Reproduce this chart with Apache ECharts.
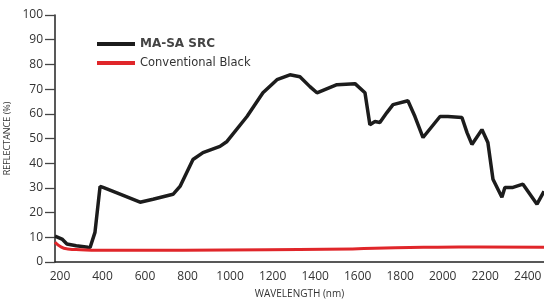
<!DOCTYPE html>
<html>
<head>
<meta charset="utf-8">
<script src="https://cdn.jsdelivr.net/npm/echarts@6/dist/echarts.min.js"></script>
<style>
  html, body { margin: 0; padding: 0; background: #fff; }
  #chart { width: 544px; height: 300px; }
</style>
</head>
<body>
<div id="chart"></div>
<script>
    // wavelength (nm) and reflectance (%)
    var srcWave = [200, 233, 256, 300, 355, 365, 388, 412, 426, 506, 600, 661, 755, 788, 849, 896, 976, 1009, 1103, 1178, 1244, 1305, 1352, 1399, 1432, 1526, 1611, 1658, 1681, 1705, 1728, 1761, 1790, 1860, 1893, 1931, 2011, 2048, 2114, 2138, 2161, 2208, 2236, 2260, 2302, 2316, 2354, 2401, 2467, 2500];
    var srcValues = [10.5, 9.3, 7.3, 6.6, 6, 5.9, 12, 30.6, 30.2, 27.5, 24.2, 25.4, 27.4, 30.6, 41.5, 44.3, 46.8, 48.8, 58.9, 68.5, 73.8, 75.8, 75, 71, 68.5, 71.8, 72.2, 68.5, 55.6, 56.9, 56.5, 60.5, 63.7, 65.3, 58.9, 50.4, 58.9, 58.9, 58.5, 52.4, 47.6, 53.6, 48.4, 33.5, 26.2, 30.2, 30.2, 31.5, 23.4, 28.6];
    var blackWave = [200, 230, 260, 320, 400, 800, 1200, 1600, 1800, 2000, 2200, 2500];
    var blackValues = [8, 6, 5.3, 5, 4.8, 4.8, 5, 5.3, 5.8, 6, 6.1, 6];
    var yTickValues = [0, 10, 20, 30, 40, 50, 60, 70, 80, 90, 100];
    var names = ['MA-SA SRC', 'Conventional Black'];

    function pairs(xs, ys) {
        var out = [];
        for (var i = 0; i < xs.length; i++) {
            out.push([xs[i], ys[i]]);
        }
        return out;
    }

    var mychart = echarts.init(document.getElementById('chart'));
    var option = {
        animation: false,
        backgroundColor: '#fff',
        grid: {left: 55, right: 0, top: 15, bottom: 38, containLabel: false, outerBoundsMode: 'none'},
        legend: {
            orient: 'vertical',
            left: 92,
            top: 33,
            icon: 'rect',
            itemWidth: 38,
            itemHeight: 4,
            itemGap: 7,
            textStyle: {fontFamily: 'DejaVu Sans', fontSize: 11.5, color: '#333'},
            data: [
                {name: names[0], textStyle: {fontFamily: 'DejaVu Sans', fontWeight: 'bold', fontSize: 12, color: '#444'}},
                {name: names[1]}
            ]
        },
        xAxis: {
            type: 'value',
            min: 200,
            max: 2500,
            interval: 200,
            name: 'WAVELENGTH (nm)',
            nameLocation: 'middle',
            nameGap: 27,
            nameTextStyle: {fontFamily: 'Open Sans', fontSize: 10, color: '#333'},
            splitLine: {show: false},
            axisTick: {show: false},
            axisLine: {lineStyle: {color: '#222', width: 1.5}},
            axisLabel: {
                margin: 9,
                padding: [0, 0, 0, 10],
                fontFamily: 'Open Sans',
                fontSize: 12,
                color: '#333',
                formatter: function (v) { return v % 200 === 0 && v < 2500 ? v : ''; }
            }
        },
        yAxis: {
            type: 'value',
            min: yTickValues[0],
            max: yTickValues[yTickValues.length - 1],
            interval: 10,
            name: 'REFLECTANCE (%)',
            nameLocation: 'middle',
            nameGap: 32,
            nameTextStyle: {fontFamily: 'Open Sans', fontSize: 9, color: '#333'},
            splitLine: {show: false},
            axisLine: {show: true, lineStyle: {color: '#222', width: 1.5}},
            axisTick: {show: true, inside: false, length: 10, lineStyle: {color: '#444', width: 1.3}},
            axisLabel: {margin: 12, fontFamily: 'Open Sans', fontSize: 12, color: '#333'}
        },
        series: [{
            name: names[0],
            type: 'line',
            showSymbol: false,
            data: pairs(srcWave, srcValues),
            lineStyle: {color: '#1c1c1c', width: 3.5},
            itemStyle: {color: '#1c1c1c'},
            z: 3
        }, {
            name: names[1],
            type: 'line',
            smooth: true,
            showSymbol: false,
            data: pairs(blackWave, blackValues),
            lineStyle: {color: '#e0262a', width: 3},
            itemStyle: {color: '#e0262a'},
            z: 4
        }]
    };
    mychart.setOption(option);
</script>
</body>
</html>
